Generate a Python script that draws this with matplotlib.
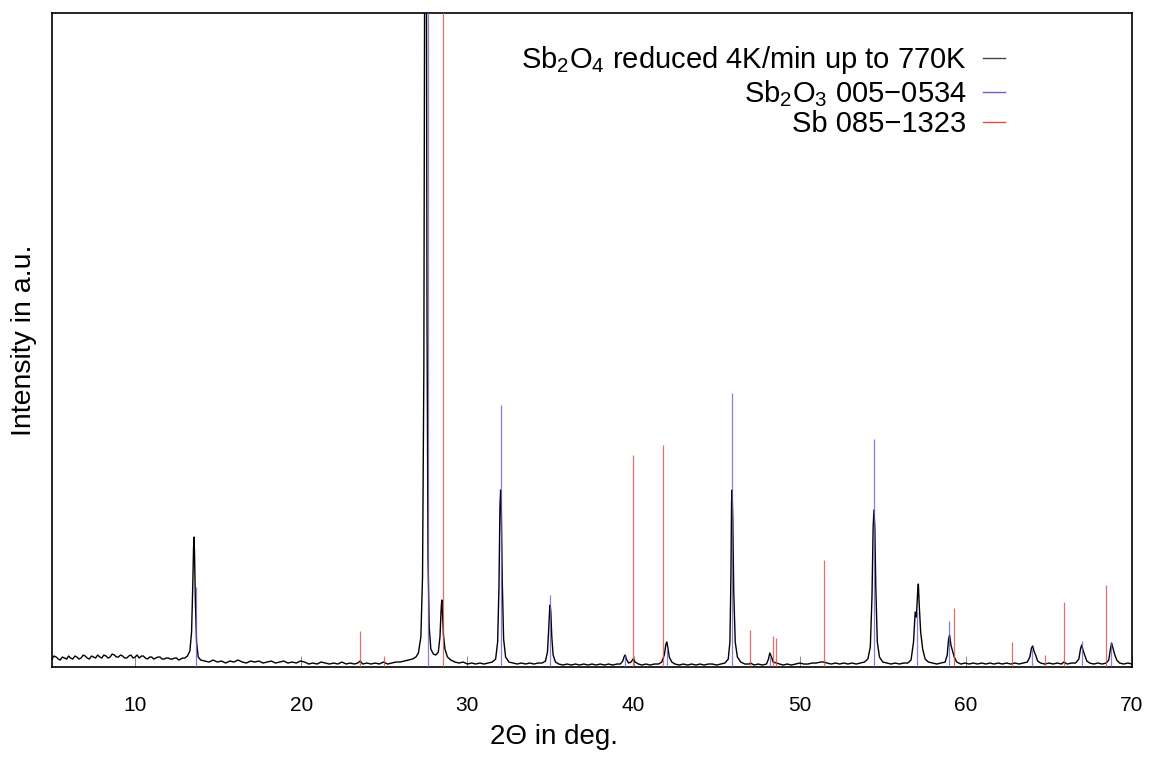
import matplotlib
matplotlib.use("Agg")
import matplotlib.pyplot as plt
from matplotlib.lines import Line2D
import numpy as np

plt.rcParams["font.family"] = ["Liberation Sans", "DejaVu Sans"]
plt.rcParams["mathtext.fontset"] = "custom"
plt.rcParams["mathtext.rm"] = "Liberation Sans"
plt.rcParams["mathtext.it"] = "Liberation Sans:italic"

scan = [
    (5.00, 8), (5.12, 11), (5.25, 10), (5.38, 8), (5.50, 7), (5.62, 10), (5.75, 9), (5.88, 8),
    (6.00, 11), (6.12, 9), (6.25, 8), (6.38, 11), (6.50, 10), (6.62, 8), (6.75, 9), (6.88, 12),
    (7.00, 11), (7.12, 9), (7.25, 8), (7.38, 11), (7.50, 10), (7.62, 9), (7.75, 12), (7.88, 10),
    (8.00, 9), (8.12, 12), (8.25, 11), (8.38, 9), (8.50, 10), (8.62, 13), (8.75, 12), (8.88, 10),
    (9.00, 10), (9.12, 12), (9.25, 11), (9.38, 9), (9.50, 9), (9.62, 11), (9.75, 12), (9.88, 9),
    (10.00, 10), (10.12, 12), (10.25, 9), (10.38, 11), (10.50, 11), (10.62, 9), (10.75, 8),
    (10.88, 10), (11.00, 10), (11.12, 8), (11.25, 9), (11.38, 10), (11.50, 10), (11.62, 8),
    (11.75, 8), (11.88, 9), (12.00, 9), (12.12, 8), (12.25, 8), (12.38, 9), (12.50, 9),
    (12.62, 7), (12.75, 8), (12.88, 9),
    (13.00, 9), (13.15, 11), (13.30, 16), (13.40, 35), (13.47, 80), (13.52, 120), (13.55, 130),
    (13.58, 112), (13.63, 65), (13.70, 25), (13.80, 10), (13.95, 7),
    (14.20, 6), (14.45, 5), (14.70, 7), (14.95, 5), (15.20, 6), (15.45, 4), (15.70, 6), (15.95, 5),
    (16.20, 7), (16.45, 5), (16.70, 4), (16.95, 6), (17.20, 5), (17.45, 6), (17.70, 4), (17.95, 5),
    (18.20, 6), (18.45, 4), (18.70, 5), (18.95, 6), (19.20, 4), (19.45, 5), (19.70, 4), (19.95, 6),
    (20.20, 5), (20.45, 3), (20.70, 4), (20.95, 3), (21.20, 5), (21.45, 4), (21.70, 3), (21.95, 4),
    (22.20, 3), (22.45, 5), (22.70, 3), (22.95, 4), (23.20, 3), (23.40, 4), (23.55, 6), (23.70, 3),
    (23.95, 4), (24.20, 3), (24.45, 4), (24.70, 3), (24.95, 5), (25.20, 3), (25.45, 4), (25.70, 5),
    (25.95, 5), (26.20, 6), (26.45, 7), (26.70, 8), (26.90, 10), (27.05, 14), (27.20, 30),
    (27.30, 90), (27.38, 300), (27.44, 800), (27.48, 1000), (27.52, 850), (27.57, 350),
    (27.63, 110), (27.70, 40), (27.80, 18), (27.95, 13), (28.10, 12), (28.25, 15), (28.35, 30),
    (28.42, 58), (28.46, 67), (28.50, 55), (28.56, 32), (28.65, 18), (28.80, 10), (29.00, 7),
    (29.25, 5), (29.50, 4), (29.75, 5), (30.00, 3), (30.25, 4), (30.50, 3), (30.75, 4), (31.00, 3),
    (31.25, 4), (31.50, 5), (31.70, 8), (31.82, 25), (31.90, 80), (31.96, 160), (32.00, 177),
    (32.04, 160), (32.10, 85), (32.18, 28), (32.30, 10), (32.50, 5), (32.75, 4), (33.00, 3),
    (33.25, 4), (33.50, 3), (33.75, 4), (34.00, 3), (34.25, 4), (34.50, 4), (34.70, 6), (34.82, 15),
    (34.90, 40), (34.95, 58), (34.98, 62), (35.02, 55), (35.08, 30), (35.16, 12), (35.30, 5),
    (35.50, 3), (35.75, 2), (36.00, 3), (36.25, 2), (36.50, 3), (36.75, 2), (37.00, 3), (37.25, 2),
    (37.50, 3), (37.75, 2), (38.00, 3), (38.25, 2), (38.50, 3), (38.75, 2), (39.00, 3), (39.20, 3),
    (39.35, 6), (39.45, 11), (39.50, 12), (39.57, 8), (39.70, 4), (39.85, 5), (39.97, 8), (40.10, 5),
    (40.30, 3), (40.50, 2), (40.75, 3), (41.00, 2), (41.25, 3), (41.50, 3), (41.70, 5), (41.85, 12),
    (41.95, 23), (42.00, 25), (42.06, 20), (42.15, 10), (42.30, 5), (42.50, 3), (42.75, 2),
    (43.00, 3), (43.25, 2), (43.50, 3), (43.75, 2), (44.00, 3), (44.25, 2), (44.50, 3), (44.75, 3),
    (45.00, 2), (45.25, 3), (45.50, 4), (45.70, 8), (45.80, 25), (45.86, 90), (45.90, 165),
    (45.93, 177), (45.97, 150), (46.03, 75), (46.12, 25), (46.25, 10), (46.45, 5), (46.70, 3),
    (46.95, 3), (47.05, 4), (47.25, 2), (47.50, 3), (47.75, 2), (48.00, 3), (48.12, 8), (48.20, 14),
    (48.28, 11), (48.40, 5), (48.60, 4), (48.80, 3), (49.00, 2), (49.25, 3), (49.50, 2), (49.75, 3),
    (50.00, 4), (50.25, 3), (50.50, 3), (50.75, 4), (51.00, 4), (51.25, 5), (51.45, 5), (51.65, 4),
    (51.90, 3), (52.15, 4), (52.40, 3), (52.65, 4), (52.90, 3), (53.15, 4), (53.40, 3), (53.65, 4),
    (53.90, 5), (54.10, 8), (54.25, 20), (54.35, 70), (54.42, 140), (54.47, 157), (54.52, 140),
    (54.58, 80), (54.67, 25), (54.80, 10), (55.00, 5), (55.25, 4), (55.50, 3), (55.75, 4),
    (56.00, 3), (56.25, 4), (56.50, 4), (56.70, 7), (56.85, 25), (56.95, 55), (57.02, 50),
    (57.10, 75), (57.14, 83), (57.20, 60), (57.28, 35), (57.40, 18), (57.55, 8), (57.75, 5),
    (58.00, 4), (58.25, 3), (58.50, 4), (58.75, 5), (58.88, 12), (58.96, 28), (59.02, 32),
    (59.10, 22), (59.20, 16), (59.30, 10), (59.45, 5), (59.70, 3), (59.95, 4), (60.20, 3),
    (60.45, 4), (60.70, 3), (60.95, 4), (61.20, 3), (61.45, 4), (61.70, 3), (61.95, 4), (62.20, 3),
    (62.45, 4), (62.70, 3), (62.95, 4), (63.20, 3), (63.45, 4), (63.70, 5), (63.85, 10), (63.95, 19),
    (64.02, 21), (64.10, 16), (64.20, 12), (64.32, 6), (64.50, 4), (64.75, 3), (65.00, 4),
    (65.25, 3), (65.50, 4), (65.75, 3), (65.90, 5), (66.10, 3), (66.35, 4), (66.60, 4), (66.80, 8),
    (66.90, 18), (66.97, 22), (67.05, 17), (67.15, 12), (67.28, 6), (67.45, 4), (67.70, 3),
    (67.95, 4), (68.20, 3), (68.45, 4), (68.60, 7), (68.70, 18), (68.77, 24), (68.85, 19),
    (68.95, 13), (69.08, 7), (69.25, 4), (69.50, 3), (69.75, 4), (70.00, 3),
]

# Sb2O3 reference card 005-0534
sb2o3_pos = [13.67, 27.60, 32.00, 34.97, 39.49, 42.00, 45.91, 48.21, 54.47, 57.04, 59.00, 64.00, 66.97, 68.76]
sb2o3_int = [80, 700, 262, 72, 12, 20, 274, 10, 228, 55, 46, 18, 26, 25]

# Sb reference card 085-1323
sb_pos = [23.54, 24.98, 28.55, 39.99, 41.77, 47.01, 48.39, 48.59, 51.46, 59.30, 62.80, 64.78, 65.91, 68.45]
sb_int = [36, 11, 1000, 212, 222, 37, 31, 29, 107, 59, 25, 12, 65, 82]

labels = [r"Sb$_2$O$_4$ reduced 4K/min up to 770K",
          "Sb$_2$O$_3$ 005\u22120534",
          "Sb 085\u22121323"]

scan = np.array(scan)
tt, counts = scan[:, 0], scan[:, 1]

fig = plt.figure(figsize=(11.53, 7.74), dpi=100)
ax = fig.add_axes([0.0451, 0.1382, 0.9367, 0.845])

ax.plot(tt, counts, color="black", lw=1.0, zorder=2)
ax.vlines(sb2o3_pos, 0, sb2o3_int, color="#6262d6", lw=0.9, alpha=0.8, zorder=3)
ax.vlines(sb_pos, 0, sb_int, color="#dd4a4a", lw=0.9, alpha=0.8, zorder=3)

ax.set_xlim(5, 70)
ax.set_ylim(0, 654)
ax.set_xticks([10, 20, 30, 40, 50, 60, 70])
ax.set_yticks([])
ax.tick_params(axis="x", direction="in", length=8, width=0.6, color="#777777",
               labelsize=15, pad=21)
for s in ax.spines.values():
    s.set_linewidth(1.2)

ax.set_xlabel("2\u0398 in deg.", fontsize=20)
ax.xaxis.set_label_coords(0.465, -0.087)
ax.set_ylabel("Intensity in a.u.", fontsize=20.5)
ax.yaxis.set_label_coords(-0.014, 0.5)

handles = [Line2D([], [], color="#444444", lw=1.0),
           Line2D([], [], color="#6262d6", lw=1.0),
           Line2D([], [], color="#dd4a4a", lw=1.0)]
ax.legend(handles, labels, loc="upper right", bbox_to_anchor=(0.882, 0.952),
          frameon=False, markerfirst=False, fontsize=21, handlelength=0.75,
          handletextpad=0.55, labelspacing=0.05, borderpad=0, borderaxespad=0)

fig.savefig("out.png", dpi=100)
